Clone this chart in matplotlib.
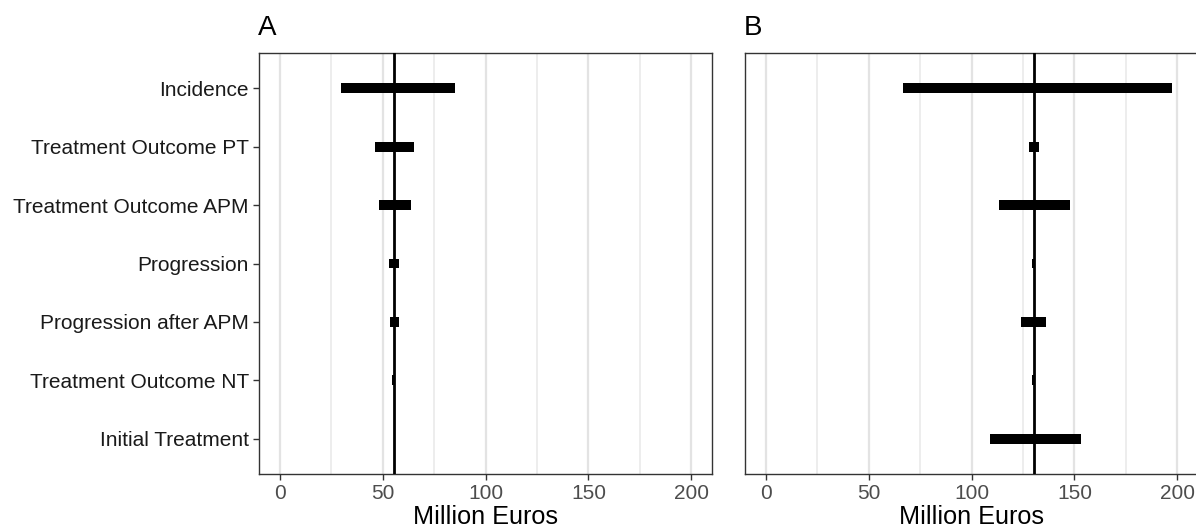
import matplotlib
matplotlib.use("Agg")
import matplotlib.pyplot as plt
from matplotlib.ticker import MultipleLocator

plt.rcParams['font.family'] = ['Liberation Sans', 'DejaVu Sans']

categories = ["Incidence", "Treatment Outcome PT", "Treatment Outcome APM",
              "Progression", "Progression after APM", "Treatment Outcome NT",
              "Initial Treatment"]

# panel A
base_a = 55.6
low_a = [29.6, 46.1, 48.2, 53.0, 53.7, 54.8, 55.5]
high_a = [85.0, 65.5, 63.6, 57.9, 57.9, 55.6, 55.7]

# panel B
base_b = 130.3
low_b = [66.8, 128.0, 113.4, 129.4, 124.2, 129.5, 109.1]
high_b = [197.3, 132.6, 147.8, 130.4, 136.3, 130.3, 153.0]

fig = plt.figure(figsize=(11.96, 5.27), dpi=100)
W, H = 1196, 527
ax_a = fig.add_axes([259 / W, (527 - 474) / H, 453 / W, 421 / H])
ax_b = fig.add_axes([745 / W, (527 - 474) / H, 453 / W, 421 / H])

ypos = list(range(len(categories), 0, -1))

for ax, lo, hi, base, title, show_y in [(ax_a, low_a, high_a, base_a, "A", True),
                                        (ax_b, low_b, high_b, base_b, "B", False)]:
    widths = [h - l for l, h in zip(lo, hi)]
    ax.barh(ypos, widths, left=lo, height=0.17, color='black', zorder=3)
    ax.axvline(base, color='black', lw=2.0, zorder=4)
    ax.set_xlim(-10, 210)
    ax.set_ylim(0.4, len(categories) + 0.6)
    ax.xaxis.set_major_locator(MultipleLocator(50))
    ax.xaxis.set_minor_locator(MultipleLocator(25))
    ax.grid(axis='x', which='major', color='#E3E3E3', lw=1.6, zorder=0)
    ax.grid(axis='x', which='minor', color='#E8E8E8', lw=1.1, zorder=0)
    ax.tick_params(axis='x', which='major', length=4.3, width=1.0, color='#333333',
                   labelsize=15, labelcolor='#4D4D4D', pad=3)
    ax.tick_params(axis='x', which='minor', length=0)
    ax.set_yticks(ypos)
    if show_y:
        ax.set_yticklabels(categories)
        ax.tick_params(axis='y', length=4.3, width=1.0, color='#333333',
                       labelsize=15, labelcolor='#1A1A1A', pad=3)
    else:
        ax.set_yticklabels([])
        ax.tick_params(axis='y', length=0)
    for s in ax.spines.values():
        s.set_color('#333333')
        s.set_linewidth(1.0)
    ax.set_xlabel("Million Euros", fontsize=18.2, color='black', labelpad=1.5)
    ax.set_title(title, loc='left', fontsize=20, x=-0.002, pad=13)

fig.savefig("out.png", dpi=100)
